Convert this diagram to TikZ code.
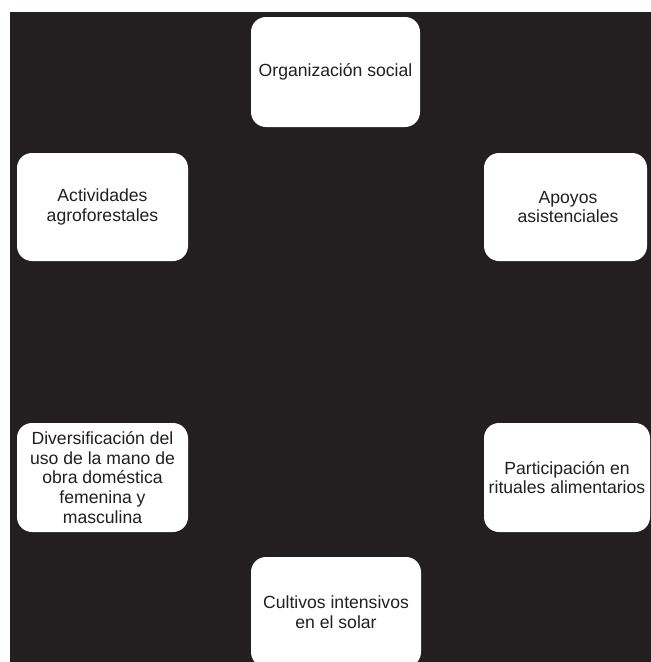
\documentclass[tikz,border=0pt]{standalone}
\usepackage{fontspec}
\setmainfont{Liberation Sans}
\definecolor{ink}{HTML}{231F20}
\begin{document}
\begin{tikzpicture}[x=1pt,y=-1pt,
  panel/.style={fill=white, draw=none, rounded corners=15pt, inner sep=0pt,
    align=center, text=ink, font=\fontsize{17.6}{19.8}\selectfont},
]
\useasboundingbox (0,0) rectangle (651,662);
\clip (0,0) rectangle (651,662);
% dark backdrop
\fill[ink] (10,12) rectangle (651,662);
% six rounded panels
\node[panel, minimum width=169pt, minimum height=110pt] (org) at (335.5,72) {Organización social};
\node[panel, minimum width=171pt, minimum height=108pt] (act) at (102.5,207) {Actividades\\agroforestales};
\node[panel, minimum width=163pt, minimum height=108pt] (apo) at (565.5,207) {\hspace*{5pt}Apoyos\\\hspace*{5pt}asistenciales};
\node[panel, minimum width=171pt, minimum height=109pt] (div) at (102.5,477.5) {Diversificación del\\uso de la mano de\\obra doméstica\\femenina y\\masculina};
\node[panel, minimum width=166pt, minimum height=109pt] (par) at (567,477.5) {Participación en\\rituales alimentarios};
\node[panel, minimum width=170pt, minimum height=110pt] (cul) at (336,612) {Cultivos intensivos\\en el solar};
\end{tikzpicture}
\end{document}
